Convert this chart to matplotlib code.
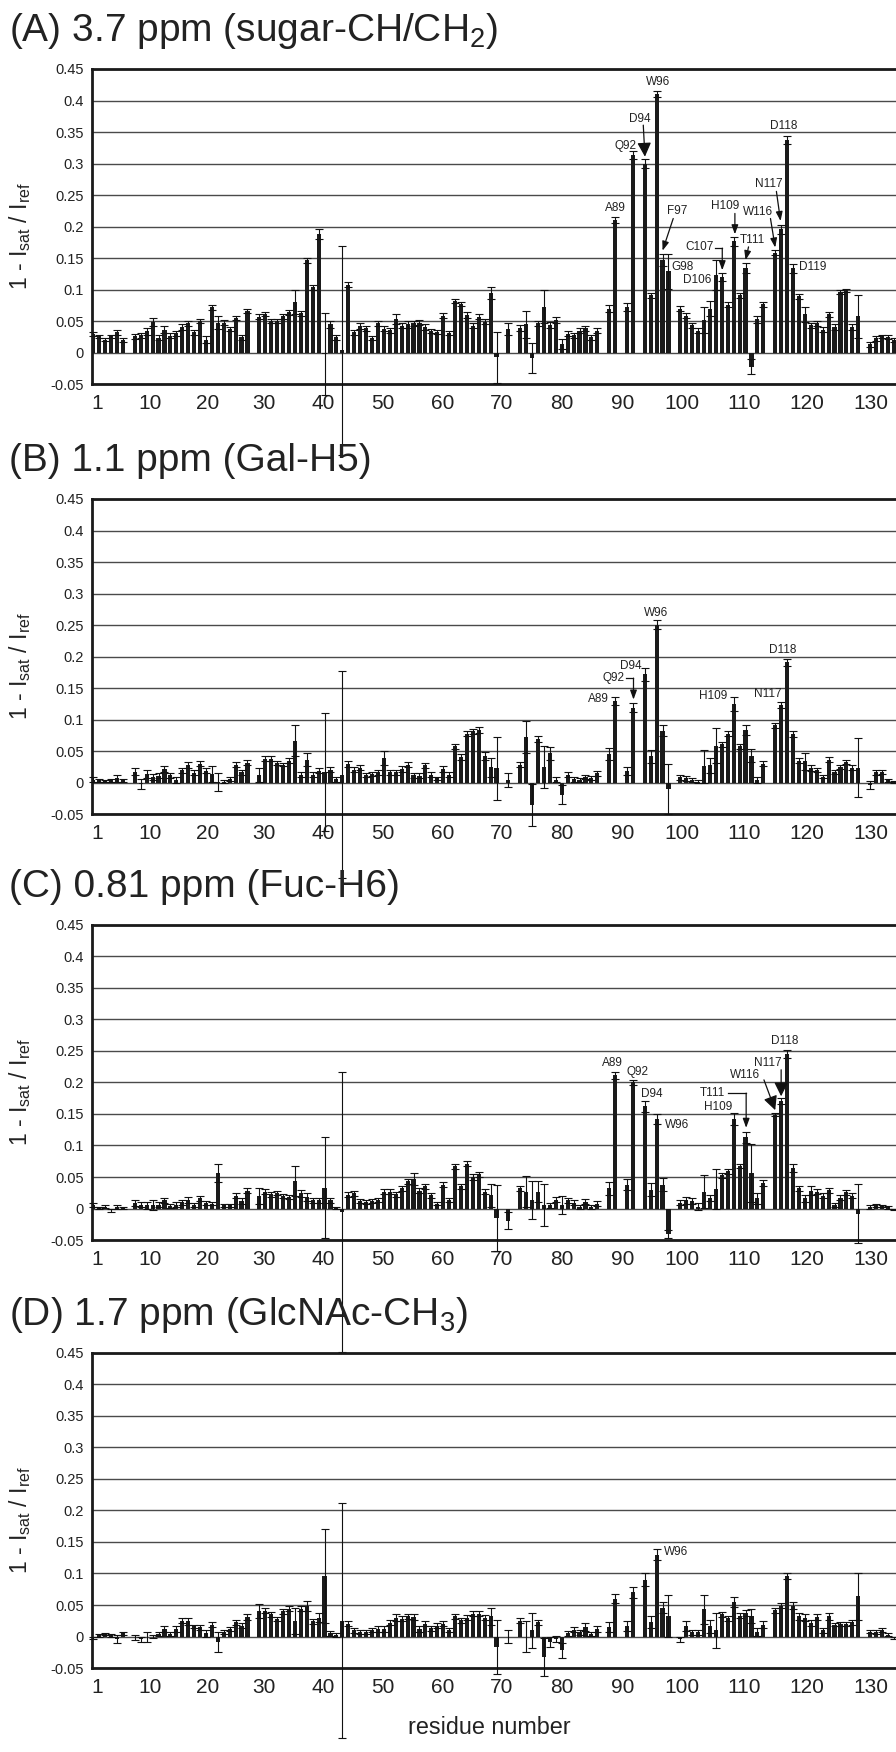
import numpy as np
import matplotlib
matplotlib.use('Agg')
import matplotlib.pyplot as plt
from matplotlib.ticker import FuncFormatter, FixedLocator

plt.rcParams['font.family'] = ['Liberation Sans', 'DejaVu Sans']
plt.rcParams['mathtext.fontset'] = 'custom'
plt.rcParams['mathtext.rm'] = 'Liberation Sans'
plt.rcParams['mathtext.it'] = 'Liberation Sans:italic'
plt.rcParams['mathtext.bf'] = 'Liberation Sans:bold'

nan = np.nan
residues = np.arange(1, 137)
xtick_labels = ['1', '10', '20', '30', '40', '50', '60', '70', '80', '90', '100', '110', '120', '130']

titles = ['(A) 3.7 ppm (sugar-CH/CH$_{2}$)', '(B) 1.1 ppm (Gal-H5)',
          '(C) 0.81 ppm (Fuc-H6)', '(D) 1.7 ppm (GlcNAc-CH$_{3}$)']

sugar_37 = [0.030, 0.026, 0.021, 0.026, 0.033, 0.020, nan, 0.026, 0.028, 0.034,
            0.049, 0.024, 0.037, 0.027, 0.031, 0.041, 0.047, 0.033, 0.051, 0.021,
            0.072, 0.048, 0.048, 0.038, 0.055, 0.025, 0.066, nan, 0.057, 0.062,
            0.050, 0.051, 0.058, 0.064, 0.080, 0.063, 0.147, 0.104, 0.189, -0.002,
            0.045, 0.025, 0.004, 0.108, 0.033, 0.043, 0.039, 0.024, 0.047, 0.038,
            0.036, 0.053, 0.043, 0.045, 0.047, 0.048, 0.041, 0.035, 0.033, 0.059,
            0.032, 0.082, 0.077, 0.060, 0.043, 0.057, 0.049, 0.095, -0.007, nan,
            0.038, nan, 0.039, 0.045, -0.008, 0.047, 0.073, 0.044, 0.052, 0.014,
            0.030, 0.028, 0.035, 0.039, 0.025, 0.035, nan, 0.070, 0.211, nan,
            0.073, 0.314, nan, 0.300, 0.091, 0.410, 0.147, 0.129, nan, 0.070,
            0.059, 0.044, 0.035, 0.052, 0.070, 0.123, 0.120, 0.076, 0.177, 0.091,
            0.134, -0.022, 0.053, 0.077, nan, 0.159, 0.196, 0.337, 0.134, 0.090,
            0.061, 0.044, 0.047, 0.037, 0.061, 0.041, 0.096, 0.099, 0.041, 0.058,
            nan, 0.014, 0.023, 0.026, 0.025, 0.021]
err_37 = [0.003, 0.002, 0.002, 0.002, 0.004, 0.003, nan, 0.004, 0.004, 0.005,
          0.007, 0.004, 0.005, 0.004, 0.004, 0.004, 0.004, 0.004, 0.003, 0.006,
          0.004, 0.010, 0.004, 0.003, 0.003, 0.004, 0.003, nan, 0.004, 0.003,
          0.003, 0.003, 0.004, 0.004, 0.019, 0.004, 0.004, 0.004, 0.008, 0.065,
          0.005, 0.004, 0.166, 0.004, 0.004, 0.005, 0.004, 0.003, 0.004, 0.004,
          0.004, 0.008, 0.004, 0.005, 0.004, 0.004, 0.004, 0.003, 0.003, 0.004,
          0.003, 0.003, 0.003, 0.004, 0.004, 0.004, 0.004, 0.010, 0.040, nan,
          0.009, nan, 0.005, 0.021, 0.024, 0.004, 0.026, 0.005, 0.005, 0.008,
          0.004, 0.004, 0.004, 0.004, 0.004, 0.004, nan, 0.006, 0.005, nan,
          0.006, 0.006, nan, 0.007, 0.004, 0.005, 0.009, 0.028, nan, 0.004,
          0.004, 0.004, 0.004, 0.020, 0.012, 0.024, 0.006, 0.004, 0.007, 0.004,
          0.008, 0.012, 0.006, 0.004, nan, 0.004, 0.007, 0.006, 0.007, 0.004,
          0.012, 0.004, 0.004, 0.004, 0.004, 0.004, 0.003, 0.003, 0.004, 0.034,
          nan, 0.004, 0.004, 0.003, 0.003, 0.003]

gal_11 = [0.005, 0.004, 0.003, 0.004, 0.007, 0.004, nan, 0.018, -0.002, 0.014,
          0.009, 0.011, 0.022, 0.012, 0.005, 0.020, 0.028, 0.016, 0.030, 0.019,
          0.014, 0.001, 0.002, 0.006, 0.029, 0.017, 0.032, nan, 0.012, 0.038,
          0.038, 0.031, 0.029, 0.035, 0.067, 0.013, 0.037, 0.013, 0.019, 0.017,
          0.021, 0.006, 0.013, 0.030, 0.021, 0.024, 0.012, 0.014, 0.017, 0.039,
          0.017, 0.017, 0.022, 0.029, 0.012, 0.011, 0.028, 0.013, 0.007, 0.022,
          0.013, 0.058, 0.041, 0.078, 0.082, 0.084, 0.043, 0.025, 0.023, nan,
          0.004, nan, 0.029, 0.073, -0.035, 0.070, 0.025, 0.047, 0.005, -0.019,
          0.013, 0.006, 0.005, 0.009, 0.008, 0.015, nan, 0.046, 0.130, nan,
          0.019, 0.119, nan, 0.172, 0.042, 0.251, 0.083, -0.010, nan, 0.009,
          0.007, 0.004, 0.002, 0.026, 0.028, 0.059, 0.061, 0.078, 0.125, 0.058,
          0.084, 0.043, 0.005, 0.030, nan, 0.091, 0.123, 0.191, 0.077, 0.035,
          0.034, 0.024, 0.020, 0.010, 0.037, 0.017, 0.025, 0.033, 0.024, 0.024,
          nan, -0.003, 0.017, 0.017, 0.004, 0.001]
err_11 = [0.004, 0.002, 0.002, 0.002, 0.005, 0.002, nan, 0.006, 0.008, 0.006,
          0.005, 0.004, 0.005, 0.004, 0.005, 0.004, 0.005, 0.004, 0.004, 0.004,
          0.013, 0.014, 0.002, 0.003, 0.004, 0.004, 0.004, nan, 0.011, 0.004,
          0.004, 0.003, 0.003, 0.004, 0.024, 0.004, 0.010, 0.004, 0.004, 0.094,
          0.004, 0.004, 0.164, 0.005, 0.004, 0.004, 0.003, 0.003, 0.004, 0.011,
          0.004, 0.004, 0.004, 0.004, 0.004, 0.004, 0.004, 0.004, 0.003, 0.004,
          0.004, 0.004, 0.004, 0.004, 0.004, 0.005, 0.006, 0.015, 0.050, nan,
          0.011, nan, 0.004, 0.025, 0.033, 0.005, 0.033, 0.010, 0.004, 0.015,
          0.004, 0.004, 0.003, 0.003, 0.003, 0.004, nan, 0.010, 0.006, nan,
          0.006, 0.007, nan, 0.010, 0.010, 0.007, 0.009, 0.040, nan, 0.004,
          0.004, 0.003, 0.003, 0.026, 0.012, 0.028, 0.004, 0.004, 0.011, 0.004,
          0.008, 0.010, 0.005, 0.004, nan, 0.004, 0.005, 0.006, 0.005, 0.004,
          0.013, 0.005, 0.003, 0.003, 0.004, 0.003, 0.003, 0.003, 0.004, 0.047,
          nan, 0.006, 0.004, 0.003, 0.002, 0.002]

fuc_081 = [0.006, 0.001, 0.003, -0.003, 0.003, 0.001, nan, 0.009, 0.006, 0.005,
           0.005, 0.006, 0.013, 0.004, 0.006, 0.010, 0.014, 0.006, 0.016, 0.009,
           0.008, 0.056, 0.005, 0.005, 0.020, 0.012, 0.028, nan, 0.020, 0.027,
           0.023, 0.025, 0.020, 0.018, 0.044, 0.024, 0.018, 0.013, 0.013, 0.033,
           0.013, 0.001, -0.005, 0.022, 0.024, 0.012, 0.011, 0.012, 0.013, 0.027,
           0.027, 0.023, 0.032, 0.043, 0.047, 0.028, 0.035, 0.021, 0.008, 0.038,
           0.013, 0.067, 0.035, 0.071, 0.050, 0.054, 0.027, 0.021, -0.015, nan,
           -0.019, nan, 0.032, 0.027, 0.013, 0.027, 0.006, 0.005, 0.014, 0.006,
           0.013, 0.009, 0.003, 0.011, 0.003, 0.008, nan, 0.032, 0.211, nan,
           0.038, 0.200, nan, 0.162, 0.030, 0.142, 0.038, -0.040, nan, 0.009,
           0.013, 0.012, 0.003, 0.027, 0.017, 0.031, 0.053, 0.059, 0.142, 0.068,
           0.113, 0.056, 0.016, 0.041, nan, 0.149, 0.171, 0.245, 0.064, 0.032,
           0.016, 0.028, 0.027, 0.020, 0.029, 0.006, 0.017, 0.026, 0.020, -0.008,
           nan, 0.003, 0.005, 0.004, 0.002, -0.002]
err_081 = [0.003, 0.002, 0.002, 0.003, 0.003, 0.002, nan, 0.005, 0.004, 0.005,
           0.008, 0.004, 0.004, 0.003, 0.004, 0.004, 0.005, 0.003, 0.004, 0.003,
           0.003, 0.014, 0.002, 0.002, 0.004, 0.004, 0.004, nan, 0.012, 0.004,
           0.004, 0.003, 0.003, 0.003, 0.024, 0.006, 0.006, 0.004, 0.004, 0.080,
           0.004, 0.002, 0.222, 0.004, 0.004, 0.003, 0.003, 0.003, 0.003, 0.004,
           0.004, 0.004, 0.004, 0.004, 0.010, 0.004, 0.004, 0.004, 0.003, 0.004,
           0.003, 0.004, 0.004, 0.004, 0.004, 0.004, 0.004, 0.018, 0.053, nan,
           0.013, nan, 0.004, 0.025, 0.030, 0.016, 0.033, 0.004, 0.004, 0.014,
           0.004, 0.004, 0.003, 0.004, 0.003, 0.004, nan, 0.010, 0.005, nan,
           0.009, 0.004, nan, 0.009, 0.010, 0.008, 0.010, 0.006, nan, 0.004,
           0.005, 0.004, 0.006, 0.026, 0.005, 0.032, 0.004, 0.004, 0.009, 0.003,
           0.009, 0.046, 0.008, 0.005, nan, 0.003, 0.005, 0.006, 0.006, 0.004,
           0.006, 0.007, 0.004, 0.004, 0.004, 0.003, 0.004, 0.004, 0.004, 0.047,
           nan, 0.003, 0.003, 0.002, 0.002, 0.001]

glcnac_17 = [-0.002, 0.002, 0.004, 0.002, -0.004, 0.005, nan, -0.001, -0.004, -0.001,
             0.000, 0.004, 0.012, 0.004, 0.012, 0.025, 0.024, 0.016, 0.015, 0.005,
             0.019, -0.009, 0.007, 0.012, 0.023, 0.017, 0.031, nan, 0.040, 0.041,
             0.035, 0.028, 0.040, 0.044, 0.025, 0.044, 0.049, 0.024, 0.030, 0.096,
             0.005, 0.003, 0.025, 0.020, 0.010, 0.007, 0.007, 0.011, 0.012, 0.012,
             0.022, 0.030, 0.028, 0.032, 0.031, 0.012, 0.020, 0.013, 0.017, 0.020,
             0.010, 0.032, 0.026, 0.030, 0.036, 0.036, 0.030, 0.032, -0.017, nan,
             0.000, nan, 0.025, 0.000, 0.010, 0.023, -0.032, -0.009, -0.004, -0.022,
             0.005, 0.011, 0.007, 0.015, 0.004, 0.012, nan, 0.015, 0.060, nan,
             0.017, 0.070, nan, 0.090, 0.023, 0.130, 0.046, 0.033, nan, -0.004,
             0.017, 0.007, 0.007, 0.043, 0.016, 0.010, 0.035, 0.029, 0.055, 0.033,
             0.037, 0.032, 0.007, 0.019, nan, 0.042, 0.049, 0.096, 0.049, 0.032,
             0.030, 0.021, 0.031, 0.010, 0.032, 0.019, 0.020, 0.020, 0.023, 0.064,
             nan, 0.008, 0.007, 0.010, 0.003, -0.002]
err_17 = [0.002, 0.002, 0.002, 0.002, 0.007, 0.003, nan, 0.004, 0.004, 0.008,
          0.002, 0.003, 0.005, 0.003, 0.004, 0.004, 0.005, 0.003, 0.004, 0.005,
          0.004, 0.016, 0.003, 0.003, 0.004, 0.004, 0.004, nan, 0.011, 0.004,
          0.004, 0.003, 0.004, 0.004, 0.021, 0.004, 0.008, 0.004, 0.007, 0.074,
          0.004, 0.003, 0.186, 0.004, 0.004, 0.003, 0.003, 0.003, 0.004, 0.004,
          0.004, 0.006, 0.004, 0.004, 0.004, 0.004, 0.004, 0.004, 0.004, 0.004,
          0.003, 0.004, 0.004, 0.004, 0.004, 0.004, 0.004, 0.013, 0.043, nan,
          0.011, nan, 0.004, 0.025, 0.028, 0.004, 0.030, 0.008, 0.005, 0.012,
          0.004, 0.004, 0.004, 0.006, 0.003, 0.005, nan, 0.008, 0.007, nan,
          0.008, 0.009, nan, 0.010, 0.009, 0.009, 0.008, 0.033, nan, 0.004,
          0.008, 0.004, 0.004, 0.023, 0.010, 0.028, 0.004, 0.004, 0.008, 0.004,
          0.005, 0.011, 0.006, 0.005, nan, 0.004, 0.004, 0.005, 0.006, 0.005,
          0.005, 0.005, 0.004, 0.004, 0.005, 0.003, 0.003, 0.003, 0.004, 0.037,
          nan, 0.003, 0.003, 0.003, 0.002, 0.002]

# annotation labels: (text, x, y, ha)
labels_A = [('W96', 96.3, 0.430, 'center'), ('D94', 93.1, 0.370, 'center'),
            ('Q92', 90.7, 0.328, 'center'), ('A89', 89.0, 0.230, 'center'),
            ('F97', 99.4, 0.225, 'center'), ('G98', 98.5, 0.136, 'left'),
            ('C107', 103.3, 0.168, 'center'), ('D106', 102.9, 0.115, 'center'),
            ('H109', 107.6, 0.233, 'center'), ('T111', 112.2, 0.179, 'center'),
            ('W116', 113.1, 0.224, 'center'), ('N117', 114.9, 0.267, 'center'),
            ('D118', 117.5, 0.360, 'center'), ('D119', 122.4, 0.136, 'center')]
arrows_A = [([(93.75, 0.361), (94.03, 0.311)], True),
            ([(98.8, 0.213), (97.0, 0.162)], False),
            ([(105.8, 0.166), (107.07, 0.166), (107.07, 0.131)], False),
            ([(109.2, 0.221), (109.2, 0.188)], False),
            ([(111.5, 0.168), (111.0, 0.147)], False),
            ([(115.2, 0.213), (116.0, 0.167)], False),
            ([(116.2, 0.256), (116.9, 0.209)], False)]
labels_B = [('W96', 95.9, 0.269, 'center'), ('D94', 91.6, 0.186, 'center'),
            ('Q92', 88.7, 0.166, 'center'), ('A89', 86.2, 0.133, 'center'),
            ('H109', 105.6, 0.138, 'center'), ('N117', 114.7, 0.141, 'center'),
            ('D118', 117.3, 0.210, 'center')]
arrows_B = [([(90.9, 0.166), (92.1, 0.166), (92.1, 0.132)], False)]
labels_C = [('A89', 88.5, 0.230, 'center'), ('Q92', 92.7, 0.217, 'center'),
            ('D94', 95.2, 0.182, 'center'), ('W96', 99.4, 0.133, 'center'),
            ('T111', 105.4, 0.183, 'center'), ('H109', 106.4, 0.161, 'center'),
            ('W116', 110.9, 0.211, 'center'), ('N117', 114.7, 0.230, 'center'),
            ('D118', 117.6, 0.265, 'center')]
arrows_C = [([(108.1, 0.183), (111.1, 0.183), (111.1, 0.128)], False),
            ([(114.1, 0.204), (116.0, 0.156)], True),
            ([(117.0, 0.220), (117.0, 0.178)], True)]
labels_D = [('W96', 99.3, 0.134, 'center')]
arrows_D = []

panels = [(titles[0], sugar_37, err_37, labels_A, arrows_A),
          (titles[1], gal_11, err_11, labels_B, arrows_B),
          (titles[2], fuc_081, err_081, labels_C, arrows_C),
          (titles[3], glcnac_17, err_17, labels_D, arrows_D)]

# layout (pixels / axis coordinates where the tick labels sit)
W, H = 896, 1752
tops = [69.0, 499.0, 924.7, 1352.7]
axh = 315.4
left_px = 92.0
xtick_pos = [1.65, 10.6, 20.2, 29.8, 39.7, 49.9, 59.9, 69.9, 80.0, 90.2, 100.3, 110.8,
             121.4, 132.1]

fig = plt.figure(figsize=(W / 100, H / 100), dpi=100)
fig.patch.set_facecolor('white')


def yfmt(v, pos):
    s = f"{v:.2f}".rstrip('0').rstrip('.')
    if s in ('-0', '-0.'):
        s = '0'
    return s


for (title, vals, errs, labs, arrs), top in zip(panels, tops):
    ax = fig.add_axes([left_px / W, 1 - (top + axh) / H, (W - left_px) / W, axh / H])
    ax.set_facecolor('none')
    v = np.array(vals, dtype=float)
    e = np.array(errs, dtype=float)
    ok = np.isfinite(v)
    ax.bar(residues[ok], v[ok], width=0.7, color='#1b1b1b', edgecolor='none', zorder=2)
    cont = ax.errorbar(residues[ok], v[ok], yerr=e[ok], fmt='none', ecolor='#111111',
                       elinewidth=0.8, capsize=2.7, capthick=0.8, zorder=3)
    for art in list(cont.lines[1]) + list(cont.lines[2]):
        art.set_clip_on(False)
    ax.set_xlim(0.78, 136.37)
    ax.set_ylim(-0.05, 0.45)
    ax.yaxis.set_major_locator(FixedLocator(np.round(np.arange(-0.05, 0.451, 0.05), 2)))
    ax.yaxis.set_major_formatter(FuncFormatter(yfmt))
    ax.set_xticks(xtick_pos)
    ax.set_xticklabels(xtick_labels)
    ax.tick_params(axis='y', length=0, pad=6, labelsize=10.5, colors='#222222')
    ax.tick_params(axis='x', length=0, pad=7, labelsize=15, colors='#222222')
    ax.yaxis.grid(True, color='#4a4a4a', linewidth=1.0)
    ax.set_axisbelow(True)
    for side in ('left', 'top', 'bottom'):
        ax.spines[side].set_linewidth(2.0)
        ax.spines[side].set_color('#1a1a1a')
    ax.spines['right'].set_visible(False)
    ax.set_ylabel(r'1 - I$_{\mathrm{sat}}$ / I$_{\mathrm{ref}}$', fontsize=16.5, color='#222222')
    ax.yaxis.set_label_coords(-0.074, 0.47)

    for (txt, x, y, ha) in labs:
        ax.text(x, y, txt, fontsize=8.5, ha=ha, va='center', color='#222222', zorder=5)
    for pts, big in arrs:
        xs = [p[0] for p in pts]
        ys = [p[1] for p in pts]
        if len(pts) > 2:
            ax.plot(xs[:-1], ys[:-1], color='#111111', lw=0.9, zorder=5)
        if big:
            style = '-|>,head_length=0.85,head_width=0.42'
        else:
            style = '-|>,head_length=0.55,head_width=0.2'
        ax.annotate('', xy=pts[-1], xytext=pts[-2],
                    arrowprops=dict(arrowstyle=style, color='#111111', lw=0.9,
                                    shrinkA=0, shrinkB=0, mutation_scale=10),
                    zorder=5)

    fig.text(9 / W, 1 - (top - 38) / H, title, fontsize=28, ha='left', va='center',
             color='#222222')

fig.text(489 / W, 1 - 1728 / H, 'residue number', fontsize=16.8, ha='center', va='center',
         color='#222222')

fig.savefig('out.png', dpi=100, facecolor='white')
